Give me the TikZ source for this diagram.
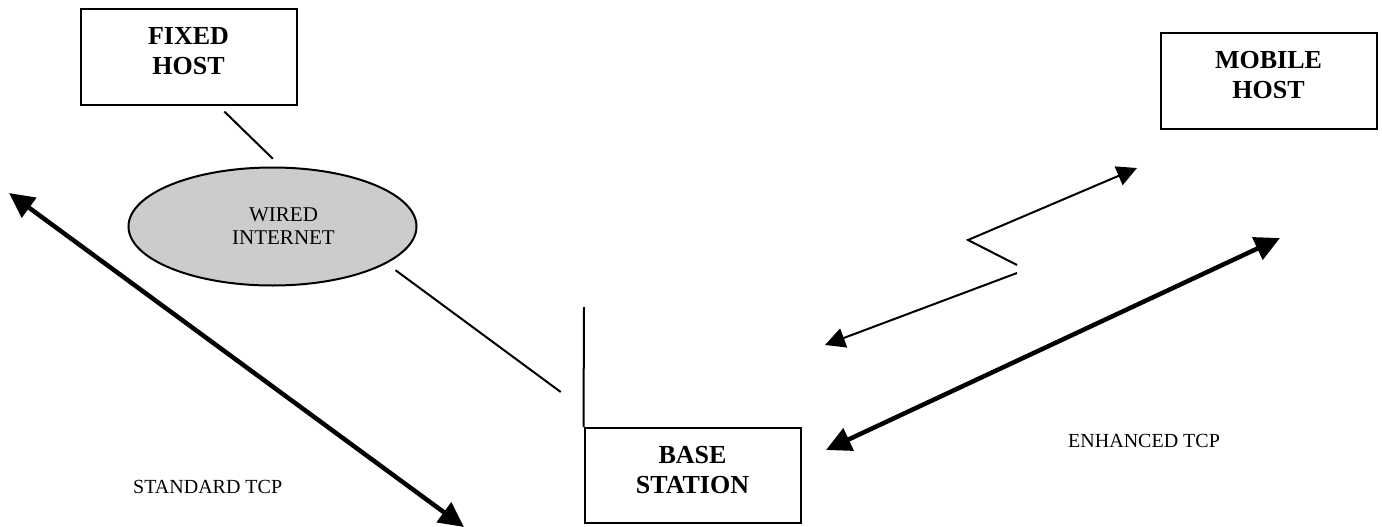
\documentclass[tikz,border=0pt]{standalone}
\usepackage{fontspec}
\setmainfont{Liberation Serif}
\usetikzlibrary{arrows.meta,shapes.geometric,calc}
\begin{document}
\begin{tikzpicture}[x=1pt,y=-1pt,
  hostbox/.style={draw,line width=2pt,minimum width=216pt,minimum height=95pt,inner sep=0pt},
  boxtext/.style={anchor=north,align=center,inner sep=0pt,font=\fontsize{26}{30}\selectfont\bfseries},
  cloud/.style={ellipse,draw,line width=2pt,fill=gray!40,minimum width=288pt,minimum height=118pt,inner sep=0pt},
  cloudtext/.style={anchor=north,align=center,inner sep=0pt,font=\fontsize{21}{23.5}\selectfont},
  caption/.style={anchor=base west,inner sep=0pt,font=\fontsize{20}{24}\selectfont},
  link/.style={line width=2pt},
  radio/.style={line width=2pt,-{Triangle[length=20pt,width=20pt]}},
  tcp/.style={line width=4.5pt,{Triangle[length=25pt,width=24pt]}-{Triangle[length=25pt,width=24pt]}},
]
\useasboundingbox (0,0) rectangle (1382,527);

% hosts and base station
\node[hostbox] (fixed) at (188.5,57) {};
\node[boxtext] (fixedlbl) at (188.5,26.8) {FIXED\\HOST};
\node[hostbox] (mobile) at (1268.5,81) {};
\node[boxtext] (mobilelbl) at (1268.5,50.8) {MOBILE\\HOST};
\node[hostbox] (base) at (692.5,475.5) {};
\node[boxtext] (baselbl) at (692.5,445.8) {BASE\\STATION};

% wired network cloud
\node[cloud] (internet) at (272.5,226.5) {};
\node[cloudtext] (internetlbl) at (283.5,207.1) {WIRED\\INTERNET};

% antenna mast on the base station
\coordinate (mast) at (584,307);
\draw[link] (base.north west) -- (mast);

% wired links
\draw[link,shorten <=8.6pt,shorten >=11.3pt]
  ($(fixed.south west)!0.636!(fixed.south east)$) -- (internet.82);
\coordinate (feed) at ($(base.north west)!0.151!(mast)$);
\draw[link,shorten <=11.2pt,shorten >=28.4pt] (internet.-18.8) -- (feed);

% wireless link (lightning)
\coordinate (mhport) at (1137,168);
\coordinate (kink) at (968,240);
\coordinate (kinkend) at (1017,265);
\coordinate (gapend) at (1017,273);
\coordinate (bsport) at (825,345);
\draw[radio] (kinkend) -- (kink) -- (mhport);
\draw[radio] (gapend) -- (bsport);

% TCP connections
\coordinate (stdA) at (9,193);
\coordinate (stdB) at (464,527);
\draw[tcp] (stdA) -- (stdB);
\coordinate (enhA) at (826,450);
\coordinate (enhB) at (1280,238);
\draw[tcp] (enhA) -- (enhB);

\node[caption] (stdlbl) at (133,493) {STANDARD TCP};
\node[caption] (enhlbl) at (1068,447) {ENHANCED TCP};
\end{tikzpicture}
\end{document}
